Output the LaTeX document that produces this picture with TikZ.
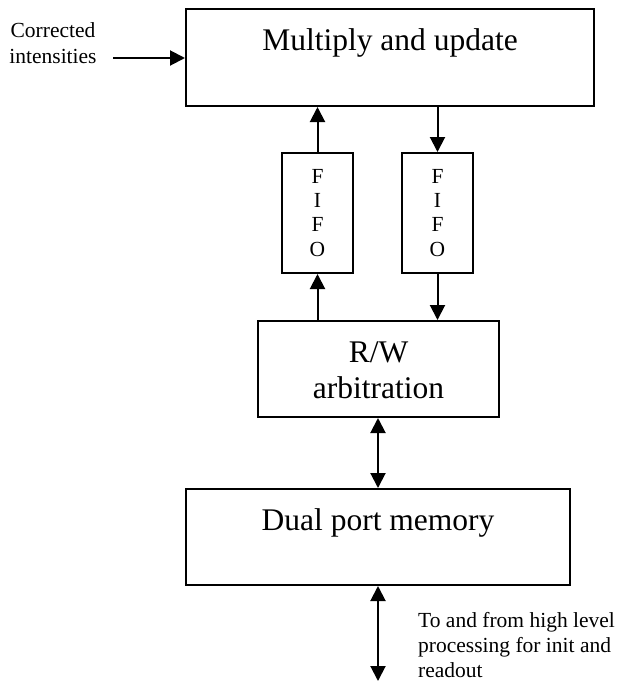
\documentclass[tikz,border=0pt]{standalone}
\usepackage{fontspec}
\setmainfont{Liberation Serif}
\usetikzlibrary{arrows.meta}
\begin{document}
\begin{tikzpicture}[x=1pt,y=-1pt,
  box/.style={draw,line width=2pt,inner sep=0pt,minimum width=#1},
  big/.style={font=\fontsize{31.5}{35}\selectfont,anchor=base,inner sep=0pt},
  small/.style={font=\fontsize{21.5}{25}\selectfont,anchor=base,inner sep=0pt},
  conn/.style={line width=2pt,-{Triangle[length=15pt,width=15pt]}},
  dconn/.style={line width=2pt,{Triangle[length=15pt,width=15pt]}-{Triangle[length=15pt,width=15pt]}}]
\useasboundingbox (0,0) rectangle (619,689);
% boxes
\node[box=408,minimum height=97] (top) at (390,57.5) {};
\node[box=71,minimum height=120] (fifoL) at (317.5,213) {};
\node[box=71,minimum height=120] (fifoR) at (437.5,213) {};
\node[box=241,minimum height=96] (rw) at (378.5,369) {};
\node[box=384,minimum height=96] (dp) at (378,537) {};
% texts
\node[big] (tTop) at (390,50) {Multiply and update};
\node[big] (tRW1) at (378.5,362) {R/W};
\node[big] (tRW2) at (378.5,398) {arbitration};
\node[big] (tDP) at (378,530) {Dual port memory};
\node[small] (tIn1) at (53,37) {Corrected};
\node[small] (tIn2) at (53,63) {intensities};
\node[small,anchor=base west] (tOut1) at (418,627) {To and from high level};
\node[small,anchor=base west] (tOut2) at (418,652) {processing for init and};
\node[small,anchor=base west] (tOut3) at (418,677) {readout};
\foreach \l/\y [count=\i] in {F/183,I/207,F/231,O/256}{
  \node[small] (fL\i) at (317.5,\y) {\l};
  \node[small] (fR\i) at (437.5,\y) {\l};
}
% connectors
\coordinate (inStart) at (113,58);
\coordinate (outEnd) at (378,681);
\draw[conn] (inStart) -- (inStart -| top.west);
\draw[conn] (fifoL.north) -- (fifoL.north |- top.south);
\draw[conn] (fifoL.south |- rw.north) -- (fifoL.south);
\draw[conn] (fifoR.north |- top.south) -- (fifoR.north);
\draw[conn] (fifoR.south) -- (fifoR.south |- rw.north);
\draw[dconn] (rw.south -| dp.north) -- (dp.north);
\draw[dconn] (dp.south) -- (outEnd);
\end{tikzpicture}
\end{document}
